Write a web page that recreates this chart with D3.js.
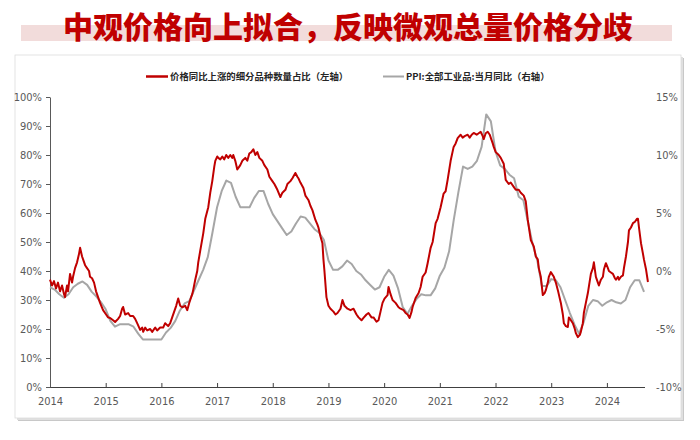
<!DOCTYPE html>
<html><head><meta charset="utf-8">
<script src="https://cdn.jsdelivr.net/npm/d3@7"></script>
<style>
body{margin:0;background:#fff}
.tick text{font-family:"Liberation Sans Narrow","DejaVu Sans Condensed","Arial Narrow",sans-serif;font-size:11px;fill:#595959}
</style>
</head><body><svg id="c" width="700" height="440"></svg>
<script>
const title = "中观价格向上拟合，反映微观总量价格分歧";
const legendLabels = ["价格同比上涨的细分品种数量占比（左轴）", "PPI:全部工业品:当月同比（右轴）"];
const yearTicks = [2014, 2015, 2016, 2017, 2018, 2019, 2020, 2021, 2022, 2023, 2024];
const leftTicks = [0, 10, 20, 30, 40, 50, 60, 70, 80, 90, 100];
const rightTicks = [-10, -5, 0, 5, 10, 15];

// share of sub-categories with rising YoY price (left axis, %), time in decimal years
const redTime = [
2014.000,2014.036,2014.072,2014.108,2014.144,2014.180,2014.216,2014.252,2014.270,2014.306,2014.324,2014.360,2014.396,2014.414,2014.450,2014.486,2014.522,2014.540,2014.576,2014.594,2014.630,2014.665,2014.701,2014.719,2014.755,2014.791,2014.827,2014.863,2014.899,2014.953,
2015.007,2015.043,2015.079,2015.133,2015.169,2015.223,2015.259,2015.295,2015.313,2015.349,2015.403,2015.439,2015.493,2015.529,2015.565,2015.619,2015.655,2015.673,2015.709,2015.745,2015.799,2015.835,2015.889,2015.924,2015.978,
2016.032,2016.068,2016.122,2016.158,2016.194,2016.230,2016.266,2016.302,2016.338,2016.374,2016.428,2016.464,2016.500,2016.518,2016.554,2016.572,2016.608,2016.644,2016.662,2016.698,2016.752,2016.788,2016.842,2016.878,2016.914,2016.950,2016.968,
2017.004,2017.022,2017.058,2017.094,2017.129,2017.165,2017.201,2017.237,2017.273,2017.291,2017.327,2017.363,2017.399,2017.417,2017.453,2017.507,2017.543,2017.579,2017.615,2017.651,2017.687,2017.723,2017.759,2017.813,2017.849,2017.903,2017.939,2017.993,
2018.029,2018.083,2018.137,2018.173,2018.227,2018.263,2018.317,2018.353,2018.406,2018.442,2018.460,2018.496,2018.550,2018.586,2018.640,2018.676,2018.712,2018.766,2018.802,2018.820,2018.856,2018.892,2018.910,2018.928,2018.964,
2019.000,2019.036,2019.090,2019.126,2019.162,2019.216,2019.252,2019.288,2019.342,2019.396,2019.450,2019.504,2019.540,2019.594,2019.629,2019.683,2019.719,2019.773,2019.809,2019.863,2019.899,2019.935,2019.971,
2020.007,2020.061,2020.079,2020.115,2020.151,2020.205,2020.259,2020.295,2020.349,2020.385,2020.421,2020.457,2020.493,2020.511,2020.565,2020.619,2020.655,2020.691,2020.745,2020.781,2020.835,2020.871,2020.925,2020.960,
2021.014,2021.068,2021.104,2021.140,2021.194,2021.248,2021.284,2021.320,2021.374,2021.410,2021.446,2021.500,2021.536,2021.572,2021.608,2021.662,2021.698,2021.734,2021.770,2021.788,2021.824,2021.860,2021.896,2021.914,2021.950,2021.968,
2022.004,2022.058,2022.094,2022.147,2022.183,2022.237,2022.273,2022.327,2022.363,2022.417,2022.453,2022.507,2022.543,2022.579,2022.633,2022.687,2022.723,2022.759,2022.777,2022.813,2022.849,2022.885,2022.903,2022.939,2022.957,2022.993,
2023.047,2023.083,2023.119,2023.173,2023.209,2023.227,2023.263,2023.299,2023.317,2023.353,2023.388,2023.424,2023.442,2023.478,2023.514,2023.532,2023.568,2023.586,2023.622,2023.658,2023.712,2023.748,2023.766,2023.802,2023.838,2023.856,2023.892,2023.928,2023.946,2023.982,
2024.018,2024.036,2024.072,2024.108,2024.144,2024.162,2024.198,2024.216,2024.252,2024.288,2024.306,2024.342,2024.378,2024.396,2024.432,2024.468,2024.504,2024.540,2024.558,2024.576,2024.612,2024.647,2024.665,2024.701,2024.737
];
const redValue = [
37,35,36.5,34,36,33,35,32,31,35,33,39,36,38,41,43,46,48,45,44,42,41,40,38,37.5,36,33,31,29,26.5,
25,24,23.8,23,22.4,23.5,24.5,27,27.6,25,25.5,24.5,24.5,23.5,22,19.7,20.5,19,20.5,19.5,20,19,20.5,19.5,20.5,
20.5,22,21,22,24,26,28,30.5,28,27.5,28,26.5,29,30,32,33.5,37,40,43,47,53,58,62,67,71,76,78,
79.5,79,78.5,79.5,78.5,80,79,80,79,80,78,75,76,76.5,78,79,78,80.5,81,82,80,81,79,78,76.5,75,72.5,71,
70,68,65.5,67,68,70,71,72,73.8,72.5,72,70.5,68.6,66,64.5,62.5,61,57.6,56,55,52,49.6,44,40,31,
28,27,26,25,25.5,27,30,28,27,26.5,27,25,24,23,23.8,25,25.5,24,24,22.5,23,26,29,
30.5,31.7,34.5,32,30,29,27.5,27,26.5,25.5,25,23.8,26,27.6,30.7,32.4,34.5,38,39.5,42.7,48,50,56.5,58,
62,66.7,67.5,71.4,78,82.8,84,85.8,87,86,86.5,87,86,87,87.6,87,87.5,88,86.5,85.5,87.5,88,87,86,84,82.8,
81,80,79,77,71.4,70,70.5,69,68,68,67,66,64,57.6,50.7,48.5,45,44,41,38,31.7,32.5,33.4,36,38,39.6,
38,36,33.4,29,25,22,21,20.7,24,23,22,20,18.6,17.2,18,19,22,25.5,29,32.4,39,41,43,38,36,35,37,38,40.5,42.7,
41,40,39.5,39,37.5,37,38,37,38,38.5,41,45,50,54,55,56.5,57,58,58,55,49.6,46,44,40.7,36.2
];

// PPI: all industrial products, YoY (right axis, %), monthly from Dec 2013 to Aug 2024
const ppiStart = {year: 2013, month: 12};
const ppiValue = [
-1.4,
-1.6,-2.0,-2.3,-2.0,-1.4,-1.1,-0.9,-1.2,-1.8,-2.2,-2.7,-3.3,
-4.3,-4.8,-4.6,-4.6,-4.6,-4.8,-5.4,-5.9,-5.9,-5.9,-5.9,-5.9,
-5.3,-4.9,-4.3,-3.4,-2.8,-2.6,-1.7,-0.8,0.1,1.2,3.3,5.5,
6.9,7.8,7.6,6.4,5.5,5.5,5.5,6.3,6.9,6.9,5.8,4.9,
4.3,3.7,3.1,3.4,4.1,4.7,4.6,4.1,3.6,3.3,2.7,0.9,
0.1,0.1,0.4,0.9,0.6,0.0,-0.3,-0.8,-1.2,-1.6,-1.4,-0.5,
0.1,-0.4,-1.5,-3.1,-3.7,-3.0,-2.4,-2.0,-2.1,-2.1,-1.5,-0.4,
0.3,1.7,4.4,6.8,9.0,8.8,9.0,9.5,10.7,13.5,12.9,10.3,
9.1,8.8,8.3,8.0,6.4,6.1,4.2,2.3,0.9,-1.3,-1.3,-0.7,
-0.8,-1.4,-2.5,-3.6,-4.6,-5.4,-4.4,-3.0,-2.5,-2.6,-3.0,-2.7,
-2.5,-2.7,-2.8,-2.5,-1.4,-0.8,-0.8,-1.8
];
// month-end time of each PPI month (decimal years)
const ppiTime = ppiValue.map((v, i) => ppiStart.year + (ppiStart.month + i) / 12);

const RED = "#c00000", GREY = "#a6a6a6";
const svg = d3.select("#c");

// title band
svg.append("rect").attr("x", 21).attr("y", 25).attr("width", 651).attr("height", 16).attr("fill", "#f2dcdb");
svg.append("text").attr("x", 348).attr("y", 38).attr("text-anchor", "middle")
  .style("font-family", '"Noto Sans CJK SC",sans-serif').style("font-weight", 900)
  .style("font-size", "30px").attr("fill", RED).text(title);

// chart frame with shadow
svg.append("rect").attr("x", 18).attr("y", 58).attr("width", 666).attr("height", 363).attr("fill", "#c8c8c8");
svg.append("rect").attr("x", 17).attr("y", 57).attr("width", 666).attr("height", 363).attr("fill", "#e0e0e0");
svg.append("rect").attr("x", 15).attr("y", 55).attr("width", 666).attr("height", 363).attr("fill", "#fff")
  .attr("stroke", "#dcdcdc").attr("stroke-width", 0.8);

const x = d3.scaleLinear().domain([2014, 2024.72]).range([50, 647]);
const yL = d3.scaleLinear().domain([0, 100]).range([387, 97]);
const yR = d3.scaleLinear().domain([-10, 15]).range([387, 97]);

// axes
const gx = svg.append("g").attr("transform", "translate(0,387)")
  .call(d3.axisBottom(x).tickValues(yearTicks).tickFormat(d3.format("d")).tickSize(-4).tickSizeOuter(0).tickPadding(10));
gx.select(".domain").attr("stroke", "#404040").attr("d", "M50,0.5H645");
gx.selectAll(".tick line").attr("stroke", "#404040");

const gl = svg.append("g").attr("transform", "translate(50,0)")
  .call(d3.axisLeft(yL).tickValues(leftTicks).tickFormat(d => d + "%").tickSize(4).tickSizeOuter(0).tickPadding(4));
gl.select(".domain").attr("stroke", "#595959");
gl.selectAll(".tick line").attr("stroke", "#595959");

const gr = svg.append("g").attr("transform", "translate(646,0)")
  .call(d3.axisRight(yR).tickValues(rightTicks).tickFormat(d => d + "%").tickSize(0).tickPadding(10));
gr.select(".domain").remove();

// lines
const ppiData = ppiTime.map((t, i) => [t, ppiValue[i]]);
const redData = redTime.map((t, i) => [t, redValue[i]]);
svg.append("path").datum(ppiData)
  .attr("d", d3.line().x(d => x(d[0])).y(d => yR(d[1])))
  .attr("fill", "none").attr("stroke", GREY).attr("stroke-width", 2).attr("stroke-linejoin", "round");
svg.append("path").datum(redData)
  .attr("d", d3.line().x(d => x(d[0])).y(d => yL(d[1])))
  .attr("fill", "none").attr("stroke", RED).attr("stroke-width", 2).attr("stroke-linejoin", "round");

// legend
const lg = svg.append("g").style("font-family", '"Noto Sans CJK SC",sans-serif').style("font-size", "9.4px").style("font-weight", 700);
lg.append("line").attr("x1", 146).attr("x2", 168).attr("y1", 76.5).attr("y2", 76.5).attr("stroke", RED).attr("stroke-width", 2.5);
lg.append("text").attr("x", 170).attr("y", 80).attr("fill", "#262626").text(legendLabels[0]);
lg.append("line").attr("x1", 383).attr("x2", 404).attr("y1", 76.5).attr("y2", 76.5).attr("stroke", GREY).attr("stroke-width", 2);
lg.append("text").attr("x", 406).attr("y", 80).attr("fill", "#262626").text(legendLabels[1]);
</script>
</body></html>
